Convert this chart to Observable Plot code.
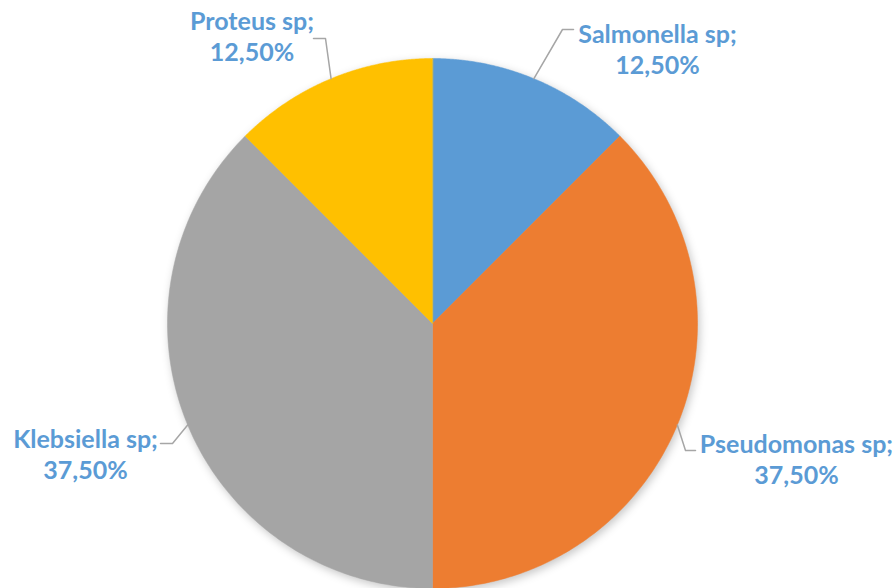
<!DOCTYPE html>
<html><head><meta charset="utf-8">
<script src="https://cdn.jsdelivr.net/npm/d3@7"></script>
<script src="https://cdn.jsdelivr.net/npm/@observablehq/plot@0.6"></script>
<style>
html,body{margin:0;padding:0;background:#fff;}
#chart{width:896px;height:588px;overflow:hidden;}
</style>
</head><body><div id="chart"></div>
<script>
// Data
const categories = ["Salmonella sp", "Pseudomonas sp", "Klebsiella sp", "Proteus sp"];
const shares = [12.5, 37.5, 37.5, 12.5];
const sliceColors = ["#5B9BD5", "#ED7D31", "#A5A5A5", "#FFC000"];

// Layout (pixel space)
const W = 896, H = 588;
const cx = 432, cy = 323, R = 265;
// label anchor offsets and leader elbows (relative to centre), per slice
const labelPos = [[225, -274.5], [364, 135.5], [-347, 130.5], [-180.5, -287.5]];
const elbowPos = [[[130, -294], [141, -294]], [[253, 127], [263, 127]], [[-260, 120], [-272, 120]], [[-107, -285], [-119, -285]]];

const arcs = d3.pie().sort(null).value(d => d)(shares);
const fmt = v => v.toFixed(2).replace(".", ",") + "%";

const slicePts = [];
arcs.forEach((a, i) => {
  slicePts.push({name: categories[i], x: cx, y: cy});
  const n = 160;
  for (let k = 0; k <= n; k++) {
    const t = a.startAngle + (a.endAngle - a.startAngle) * k / n;
    slicePts.push({name: categories[i], x: cx + R * Math.sin(t), y: cy - R * Math.cos(t)});
  }
});

const leaders = [];
arcs.forEach((a, i) => {
  const m = (a.startAngle + a.endAngle) / 2;
  leaders.push({name: categories[i], x: cx + R * Math.sin(m), y: cy - R * Math.cos(m)});
  elbowPos[i].forEach(([dx, dy]) => leaders.push({name: categories[i], x: cx + dx, y: cy + dy}));
});

const labels = arcs.map((a, i) => ({
  text: categories[i] + ";\n" + fmt(shares[i]),
  x: cx + labelPos[i][0], y: cy + labelPos[i][1]
}));

const chart = Plot.plot({
  width: W, height: H,
  margin: 0,
  x: {domain: [0, W], range: [0, W], axis: null},
  y: {domain: [0, H], range: [0, H], axis: null},
  color: {domain: categories, range: sliceColors},
  style: {background: "white", overflow: "visible"},
  marks: [
    Plot.line(slicePts, {x: "x", y: "y", z: "name", fill: "name", stroke: "name", strokeWidth: 0.5, curve: "linear-closed"}),
    Plot.line(leaders, {x: "x", y: "y", z: "name", stroke: "#A6A6A6", strokeWidth: 1.5}),
    Plot.text(labels, {x: "x", y: "y", text: "text", fill: "#5B9BD5", fontSize: 25, fontWeight: "bold", fontFamily: "Lato", lineHeight: 1.24, textAnchor: "middle"})
  ]
});
chart.querySelector("g[aria-label='line']")?.setAttribute("style", "filter: drop-shadow(2px 3px 4px rgba(0,0,0,0.22))");
document.getElementById("chart").appendChild(chart);
</script></body></html>
